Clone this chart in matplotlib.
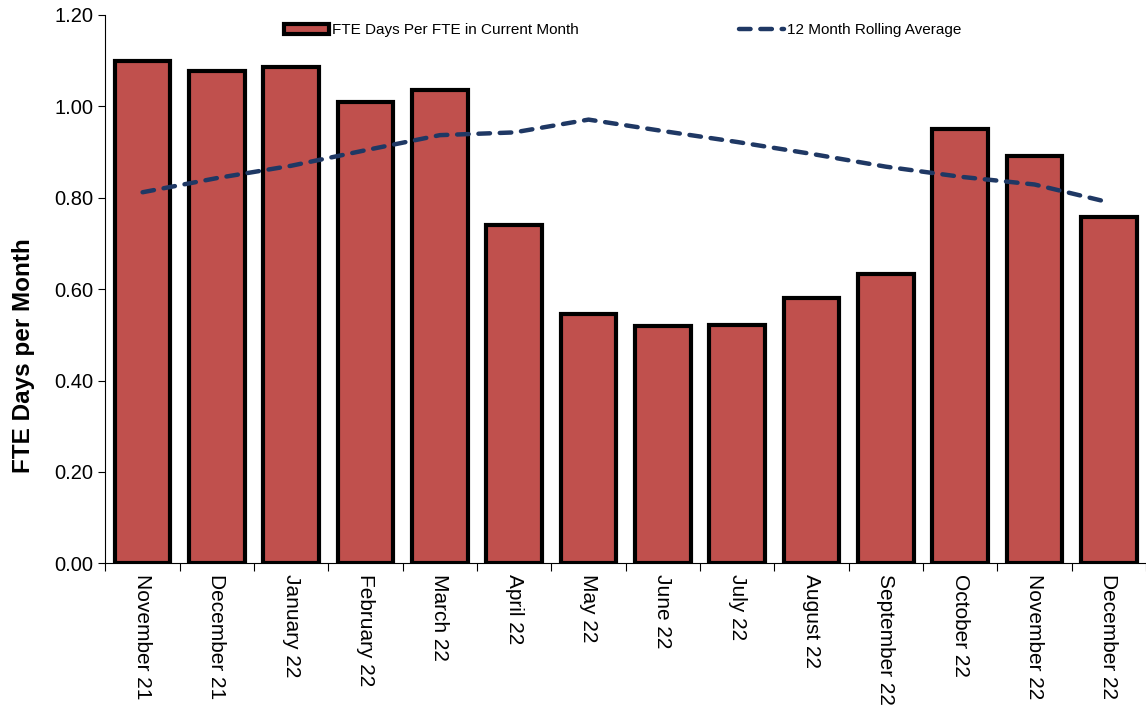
import matplotlib.pyplot as plt
import numpy as np

plt.rcParams['font.family'] = ['Liberation Sans', 'DejaVu Sans']

months = ['November 21', 'December 21', 'January 22', 'February 22', 'March 22',
          'April 22', 'May 22', 'June 22', 'July 22', 'August 22',
          'September 22', 'October 22', 'November 22', 'December 22']
fte_days = [1.10, 1.077, 1.087, 1.010, 1.036, 0.740, 0.545, 0.519, 0.521,
            0.580, 0.633, 0.951, 0.891, 0.758]
rolling_avg = [0.812, 0.843, 0.870, 0.904, 0.937, 0.943, 0.971, 0.946,
               0.922, 0.896, 0.868, 0.846, 0.829, 0.790]

fig = plt.figure(figsize=(11.46, 7.13), dpi=100)
ax = fig.add_axes([0.092, 0.21, 0.908, 0.769])

x = np.arange(len(months))
bars = ax.bar(x, fte_days, width=0.75, color='#C0504D', edgecolor='black',
              linewidth=3, label='FTE Days Per FTE in Current Month', zorder=2)
line, = ax.plot(x, rolling_avg, color='#1F3864', linestyle=(0, (2.6, 2.2)),
                dash_capstyle='round', linewidth=3.2,
                label='12 Month Rolling Average', zorder=3)

ax.set_xlim(-0.5, len(months) - 0.5)
ax.set_ylim(0, 1.2)
ax.set_yticks(np.arange(0, 1.21, 0.2))
ax.set_yticklabels(['%.2f' % v for v in np.arange(0, 1.21, 0.2)], fontsize=14.5)

# ticks at category edges, labels at centres
ax.set_xticks(np.arange(-0.5, len(months), 1))
ax.set_xticklabels([])
ax.set_xticks(x, minor=True)
ax.set_xticklabels(months, minor=True, rotation=270, fontsize=15)
ax.tick_params(axis='x', which='minor', length=0, pad=8)
ax.tick_params(axis='x', which='major', length=6, direction='out')
ax.tick_params(axis='y', length=5, direction='out')

ax.spines['top'].set_visible(False)
ax.spines['right'].set_visible(False)
ax.set_ylabel('FTE Days per Month', fontsize=17.5, fontweight='bold')
ax.yaxis.set_label_coords(-0.068, 0.378)

ax.legend([bars, line], [bars.get_label(), line.get_label()],
          loc='upper center', bbox_to_anchor=(0.497, 1.01), ncol=2,
          frameon=False, fontsize=11, columnspacing=10.5, handlelength=2.95,
          handletextpad=0.2)

fig.savefig('out.png', dpi=100)
